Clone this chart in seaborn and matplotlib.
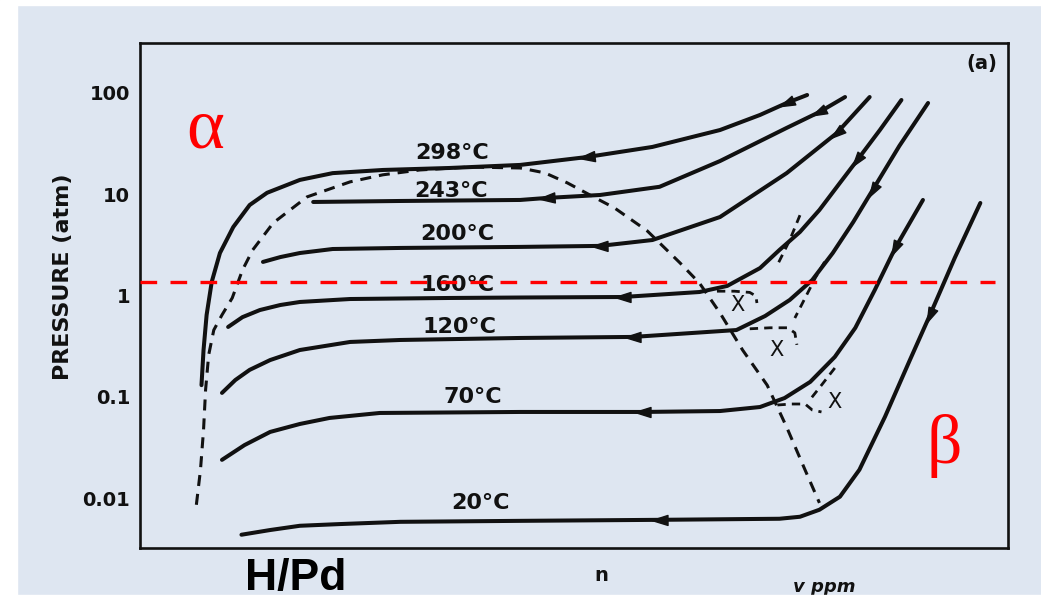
import numpy as np
import matplotlib
matplotlib.use('Agg')
import matplotlib.pyplot as plt
from matplotlib.patches import Rectangle
from matplotlib.ticker import NullLocator
import seaborn as sns

# --- isotherms (x: H/Pd in tick units, p: pressure in atm) ---
x_298 = [0.60, 0.62, 0.65, 0.70, 0.78, 0.91, 1.07, 1.24, 1.56, 1.88, 2.37, 3.02, 3.71, 4.36, 5.00, 5.66, 6.05, 6.31, 6.51]
p_298 = [0.130, 0.289, 0.641, 1.36, 2.62, 4.73, 7.80, 10.3, 13.8, 16.1, 17.3, 18.1, 19.4, 23.2, 29.2, 42.9, 60.4, 79.3, 95.1]

x_243 = [1.69, 2.54, 3.71, 3.97, 4.49, 5.07, 5.66, 6.31, 6.63, 6.88]
p_243 = [8.36, 8.55, 8.75, 9.16, 9.80, 11.8, 21.2, 45.0, 64.6, 90.8]

x_200 = [1.20, 1.37, 1.56, 1.88, 2.54, 3.71, 4.49, 5.00, 5.66, 6.31, 6.80, 7.12]
p_200 = [2.14, 2.39, 2.62, 2.87, 2.94, 3.01, 3.08, 3.52, 5.94, 16.1, 40.1, 90.8]

x_160 = [0.86, 1.00, 1.17, 1.37, 1.56, 2.05, 3.02, 3.71, 4.71, 5.46, 5.73, 6.05, 6.24, 6.44, 6.63, 6.83, 7.00, 7.22, 7.43]
p_160 = [0.488, 0.610, 0.717, 0.804, 0.861, 0.921, 0.943, 0.953, 0.964, 1.08, 1.24, 1.86, 2.81, 4.23, 6.97, 12.9, 21.7, 42.9, 84.9]

x_120 = [0.80, 0.93, 1.07, 1.27, 1.56, 2.05, 2.54, 3.71, 4.81, 5.82, 6.10, 6.34, 6.56, 6.76, 6.96, 7.15, 7.41, 7.69]
p_120 = [0.109, 0.146, 0.184, 0.230, 0.289, 0.347, 0.363, 0.380, 0.389, 0.455, 0.626, 0.901, 1.42, 2.62, 5.30, 11.0, 29.9, 79.3]

x_70 = [0.80, 1.02, 1.27, 1.56, 1.85, 2.34, 3.71, 4.91, 5.66, 6.05, 6.29, 6.54, 6.78, 6.98, 7.17, 7.37, 7.64]
p_70 = [0.0238, 0.0333, 0.0449, 0.0538, 0.0617, 0.0691, 0.0707, 0.0707, 0.0722, 0.0791, 0.0970, 0.140, 0.247, 0.478, 1.13, 2.94, 8.75]

x_20 = [0.99, 1.27, 1.56, 1.95, 2.54, 3.71, 5.07, 6.24, 6.44, 6.63, 6.83, 7.02, 7.27, 7.51, 7.71, 7.95, 8.20]
p_20 = [0.00434, 0.00483, 0.00532, 0.00553, 0.00582, 0.00595, 0.00609, 0.00624, 0.00653, 0.00766, 0.0103, 0.0190,
        0.0635, 0.227, 0.646, 2.34, 8.17]

temps = ['298°C', '243°C', '200°C', '160°C', '120°C', '70°C', '20°C']
curves = [(x_298, p_298), (x_243, p_243), (x_200, p_200), (x_160, p_160),
          (x_120, p_120), (x_70, p_70), (x_20, p_20)]
# index of the points carrying a desorption arrow (points back along the curve)
arrow_idx = [(13, 17), (3, 8), (6, 10), (8, 16), (8, 15), (7, 15), (6, 14)]
lbl_x = [3.05, 3.04, 3.10, 3.10, 3.12, 3.25, 3.32]
lbl_p = [25.4, 10.7, 4.01, 1.27, 0.489, 0.0995, 0.00895]

# two-phase dome (dashed)
x_dome = [0.55, 0.59, 0.62, 0.64, 0.67, 0.72, 0.80, 0.90, 1.00, 1.10, 1.30, 1.63, 2.05, 2.37, 2.73,
          3.22, 3.71, 3.95, 4.17, 4.39, 4.63, 4.95, 5.27, 5.46, 5.66, 5.88, 6.12, 6.31, 6.49, 6.63]
p_dome = [0.00857, 0.0189, 0.0470, 0.117, 0.258, 0.455, 0.641, 0.943, 1.78, 2.81, 5.19, 9.38, 13.2, 15.5, 17.3,
          18.5, 18.1, 16.2, 12.9, 9.80, 7.30, 4.33, 2.09, 1.32, 0.670, 0.289, 0.130, 0.0501, 0.0189, 0.00895]

# small hysteresis scans near the X marks (dashed)
scans = [
    ([5.63, 5.80, 5.95, 6.01, 6.02], [1.10, 1.10, 1.07, 0.986, 0.841]),
    ([6.44, 6.34, 6.22], [6.19, 3.51, 2.00]),
    ([5.95, 6.15, 6.32, 6.39, 6.41], [0.468, 0.479, 0.479, 0.427, 0.325]),
    ([6.68, 6.59, 6.49, 6.39], [2.14, 1.49, 0.942, 0.598]),
    ([6.22, 6.36, 6.49, 6.56, 6.65], [0.0828, 0.0847, 0.0847, 0.0739, 0.0707]),
    ([6.78, 6.65, 6.52], [0.192, 0.130, 0.0887]),
]
x_marks = [5.83, 6.21, 6.78]
p_marks = [0.804, 0.289, 0.0887]

p_red = 1.36
y_ticks = [0.01, 0.1, 1, 10, 100]
y_labels = ['0.01', '0.1', '1', '10', '100']
x_ticks = [0.5, 1.5, 2.5, 3.5, 4.5, 5.5, 6.5, 7.5]

INK = '#111111'
BG = '#dee6f1'

sns.set_theme(style='white')
plt.rcParams['font.family'] = ['DejaVu Sans']

W, H = 1041, 600
fig = plt.figure(figsize=(W / 100, H / 100), dpi=100, facecolor=BG)
ax = fig.add_axes([140 / W, 1 - 548 / H, 868 / W, 505 / H])
ax.set_facecolor(BG)
ax.set_yscale('log')
ax.set_xlim(0, 8.47)
ax.set_ylim(0.00321, 310)

for (xs, ps) in curves:
    sns.lineplot(x=xs, y=ps, ax=ax, color=INK, lw=2.9, sort=False, estimator=None,
                 solid_capstyle='round', solid_joinstyle='round', zorder=3)

ax.plot(x_dome, p_dome, color=INK, lw=2.2, ls=(0, (3.6, 2.6)), zorder=2)
for xs, ps in scans:
    ax.plot(xs, ps, color=INK, lw=2.0, ls=(0, (3.0, 2.2)), zorder=2)

# arrowheads
tri = np.array([[1.0, 0.0], [-0.9, 0.6], [-0.9, -0.6], [1.0, 0.0]])
for (xs, ps), idx in zip(curves, arrow_idx):
    for i in idx:
        a = ax.transData.transform((xs[i], ps[i]))
        b = ax.transData.transform((xs[i - 1], ps[i - 1]))
        ang = np.arctan2(b[1] - a[1], b[0] - a[0])
        rot = np.array([[np.cos(ang), -np.sin(ang)], [np.sin(ang), np.cos(ang)]])
        ax.plot(xs[i], ps[i], marker=tri @ rot.T, ms=12, color=INK, zorder=4, ls='none')

for t, lx, lp in zip(temps, lbl_x, lbl_p):
    ax.text(lx, lp, t, ha='center', va='center', fontsize=16, fontweight='bold', color=INK, zorder=4)
for mx, mp in zip(x_marks, p_marks):
    ax.text(mx, mp, 'X', ha='center', va='center', fontsize=15, color=INK, zorder=4)

ax.hlines(p_red, 0, 8.34, colors='#ff0000', lw=2.4, linestyles=(0, (5, 4)), zorder=6)

for s in ax.spines.values():
    s.set_color(INK)
    s.set_linewidth(1.9)
ax.set_yticks(y_ticks, labels=y_labels)
ax.yaxis.set_minor_locator(NullLocator())
ax.set_xticks(x_ticks, labels=[''] * len(x_ticks))
ax.tick_params(axis='y', direction='out', length=6, width=1.8, color=INK, pad=1,
               labelsize=14, labelcolor=INK)
ax.tick_params(axis='x', direction='out', length=4, width=1.5, color=INK)
for lab in ax.get_yticklabels():
    lab.set_fontweight('bold')

ax.text(4.5, -0.035, 'n', transform=ax.get_xaxis_transform(), ha='center', va='top',
        fontsize=14, fontweight='bold', color=INK)
ax.text(6.68, -0.06, 'v ppm', transform=ax.get_xaxis_transform(), ha='center', va='top',
        fontsize=13, fontweight='bold', style='italic', color=INK)
fig.text(982 / W, 1 - 63 / H, '(a)', ha='center', va='center', fontsize=14, fontweight='bold', color=INK)
fig.text(63 / W, 1 - 277 / H, 'PRESSURE (atm)', rotation=90, ha='center', va='center',
         fontsize=16, fontweight='bold', color=INK)

fig.text(205 / W, 1 - 147 / H, 'α', ha='center', va='baseline', fontsize=52,
         family='Liberation Serif', color='#ff0000')
fig.text(944 / W, 1 - 463 / H, 'β', ha='center', va='baseline', fontsize=50,
         family='Liberation Serif', color='#ff0000')
fig.text(245 / W, 1 - 590 / H, 'H/Pd', ha='left', va='baseline', fontsize=32,
         fontweight='bold', family='Liberation Sans', color='black', zorder=11)

# scan borders
fig.patches.append(Rectangle((0, 0), 17 / W, 1, transform=fig.transFigure, color='white', zorder=10))
fig.patches.append(Rectangle((0, 1 - 5 / H), 1, 5 / H, transform=fig.transFigure, color='white', zorder=10))
fig.patches.append(Rectangle((0, 0), 1, 5 / H, transform=fig.transFigure, color='white', zorder=10))

fig.savefig('out.png', dpi=100, facecolor=BG)
